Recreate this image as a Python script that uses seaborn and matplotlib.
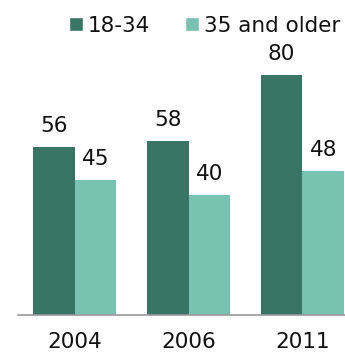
import matplotlib
matplotlib.use("Agg")
import matplotlib.pyplot as plt
import seaborn as sns
import pandas as pd
from matplotlib.patches import Patch

years = ["2004", "2006", "2011"]
series = ["18-34", "35 and older"]
young = [56, 58, 80]
older = [45, 40, 48]
colors = ["#387565", "#79c1b0"]

df = pd.DataFrame({
    "year": years * 2,
    "group": [series[0]] * 3 + [series[1]] * 3,
    "value": young + older,
})

sns.set_style("white")
plt.rcParams["font.family"] = ["DejaVu Sans"]
FS = 15.5

fig = plt.figure(figsize=(3.45, 3.52), dpi=100)
ax = fig.add_axes([18 / 345, 1 - 315 / 352, 1 - 18 / 345, 315 / 352])
sns.barplot(data=df, x="year", y="value", hue="group", palette=colors,
            width=0.73, ax=ax, legend=False, saturation=1, linewidth=0)

ax.set_xlim(-0.496, 2.373)
ax.set_ylim(0, 105)
for c in ax.containers:
    ax.bar_label(c, padding=8, fontsize=FS, color="#111111")

for s in ["top", "right", "left"]:
    ax.spines[s].set_visible(False)
ax.spines["bottom"].set_color("#999999")
ax.spines["bottom"].set_linewidth(1.2)
ax.set_yticks([])
ax.set_xlabel("")
ax.set_ylabel("")
ax.tick_params(axis="x", length=0, labelsize=FS, pad=12, colors="#111111")

handles = [Patch(facecolor=colors[0]), Patch(facecolor=colors[1])]
fig.legend(handles, series, loc="upper left", bbox_to_anchor=(60 / 345, 1 - 7 / 352),
           ncol=2, frameon=False, fontsize=FS, handlelength=0.66, handleheight=0.66,
           handletextpad=0.24, columnspacing=1.6, borderaxespad=0, labelcolor="#111111")

fig.savefig("out.png", dpi=100)
